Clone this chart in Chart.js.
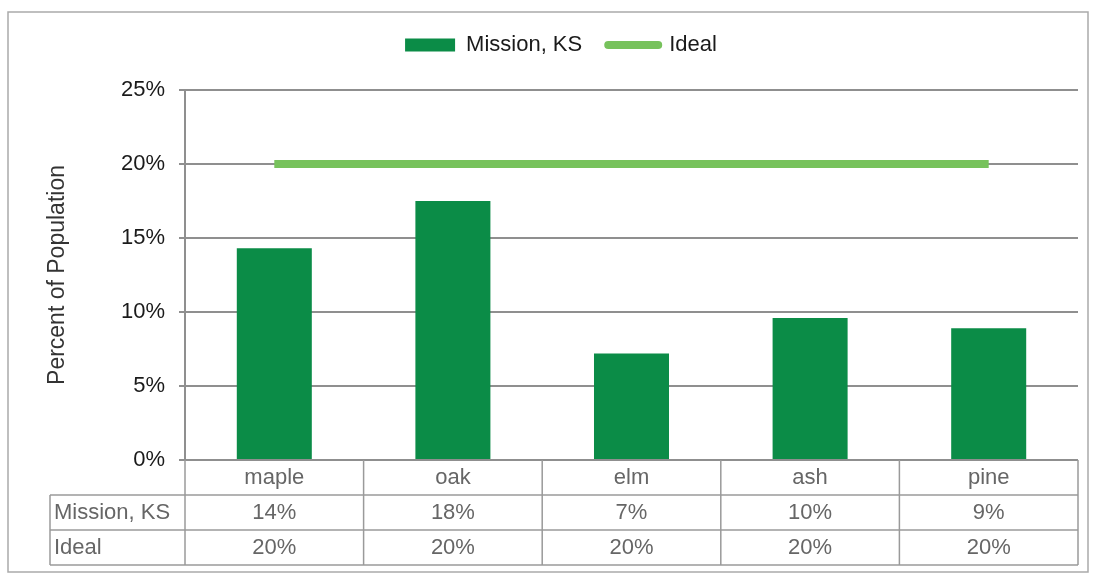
<!DOCTYPE html>
<html>
<head>
<meta charset="utf-8">
<script src="https://cdn.jsdelivr.net/npm/chart.js@4/dist/chart.umd.min.js"></script>
<style>
  html, body { margin: 0; padding: 0; background: #fff; }
  canvas { display: block; }
</style>
</head>
<body>
<canvas id="chart" width="1096" height="578"></canvas>
<script>
// data
const categories = ["maple", "oak", "elm", "ash", "pine"];
const missionValues = [14.3, 17.5, 7.2, 9.6, 8.9];
const idealValues = [20, 20, 20, 20, 20];
const seriesNames = ["Mission, KS", "Ideal"];
const yTicks = [0, 5, 10, 15, 20, 25];

const barColor = "#0b8c47";
const lineColor = "#77c25c";
const gridColor = "#8f8f8f";
const tableLine = "#9a9a9a";
const font = "'Liberation Sans', Arial, sans-serif";

// data table under the plot, frame round the whole chart
const tablePlugin = {
  id: "dataTable",
  beforeInit(chart) {
    const fit = chart.legend.fit;
    chart.legend.fit = function () {
      fit.bind(chart.legend)();
      this.height = 82;
    };
  },
  afterDraw(chart) {
    const ctx = chart.ctx;
    const area = chart.chartArea;
    const x = chart.scales.x;
    const colW = x.width / categories.length;
    const rowH = 35;
    const headLeft = 50;
    const top = area.bottom;
    const rows = [top, top + rowH, top + rowH * 2, top + rowH * 3];

    ctx.save();
    ctx.strokeStyle = tableLine;
    ctx.lineWidth = 1.5;
    ctx.beginPath();
    ctx.moveTo(headLeft, rows[1]); ctx.lineTo(area.right, rows[1]);
    ctx.moveTo(headLeft, rows[2]); ctx.lineTo(area.right, rows[2]);
    ctx.moveTo(headLeft, rows[3]); ctx.lineTo(area.right, rows[3]);
    ctx.moveTo(headLeft, rows[1]); ctx.lineTo(headLeft, rows[3]);
    for (let i = 0; i <= categories.length; i++) {
      const xx = area.left + i * colW;
      ctx.moveTo(xx, rows[0]); ctx.lineTo(xx, rows[3]);
    }
    ctx.stroke();

    ctx.fillStyle = "#666";
    ctx.font = "22px " + font;
    ctx.textBaseline = "middle";
    ctx.textAlign = "center";
    categories.forEach((c, i) => {
      const cx = x.getPixelForValue(i);
      ctx.fillText(c, cx, rows[0] + rowH / 2);
      ctx.fillText(Math.round(missionValues[i]) + "%", cx, rows[1] + rowH / 2);
      ctx.fillText(Math.round(idealValues[i]) + "%", cx, rows[2] + rowH / 2);
    });
    ctx.textAlign = "left";
    ctx.fillText(seriesNames[0], headLeft + 4, rows[1] + rowH / 2);
    ctx.fillText(seriesNames[1], headLeft + 4, rows[2] + rowH / 2);

    ctx.strokeStyle = "#aaa";
    ctx.strokeRect(8, 12, 1080, 560);
    ctx.restore();
  }
};

new Chart(document.getElementById("chart"), {
  data: {
    labels: categories,
    datasets: [
      {
        type: "bar",
        label: seriesNames[0],
        data: missionValues,
        backgroundColor: barColor,
        barPercentage: 0.42,
        categoryPercentage: 1
      },
      {
        type: "line",
        label: seriesNames[1],
        data: idealValues,
        borderColor: lineColor,
        borderWidth: 8,
        pointRadius: 0
      }
    ]
  },
  options: {
    responsive: false,
    animation: false,
    layout: { padding: { top: 8, left: 44, right: 18, bottom: 118 } },
    plugins: {
      tooltip: { enabled: false },
      legend: {
        position: "top",
        labels: {
          usePointStyle: true,
          pointStyleWidth: 50,
          boxHeight: 13,
          padding: 26,
          color: "#1a1a1a",
          font: { family: font, size: 22 },
          generateLabels(chart) {
            const items = Chart.defaults.plugins.legend.labels.generateLabels(chart);
            items.sort((a, b) => a.datasetIndex - b.datasetIndex);
            items.forEach(it => {
              if (it.datasetIndex === 0) {
                it.pointStyle = "rect";
                it.fillStyle = barColor;
                it.lineWidth = 0;
              } else {
                it.pointStyle = "line";
                it.strokeStyle = lineColor;
                it.lineWidth = 8;
                it.lineCap = "round";
              }
            });
            return items;
          }
        }
      }
    },
    scales: {
      x: {
        type: "category",
        offset: true,
        display: false
      },
      y: {
        min: 0,
        max: 25,
        afterFit(s) { s.width = 141; },
        afterBuildTicks(s) { s.ticks = yTicks.map(v => ({ value: v })); },
        border: { color: gridColor, width: 2 },
        grid: { color: gridColor, lineWidth: 2, tickLength: 6 },
        ticks: {
          padding: 14,
          color: "#1a1a1a",
          font: { family: font, size: 22 },
          callback: v => v + "%"
        },
        title: {
          display: true,
          text: "Percent of Population",
          color: "#333",
          padding: 0,
          font: { family: font, size: 23 }
        }
      }
    }
  },
  plugins: [tablePlugin]
});
</script>
</body>
</html>
